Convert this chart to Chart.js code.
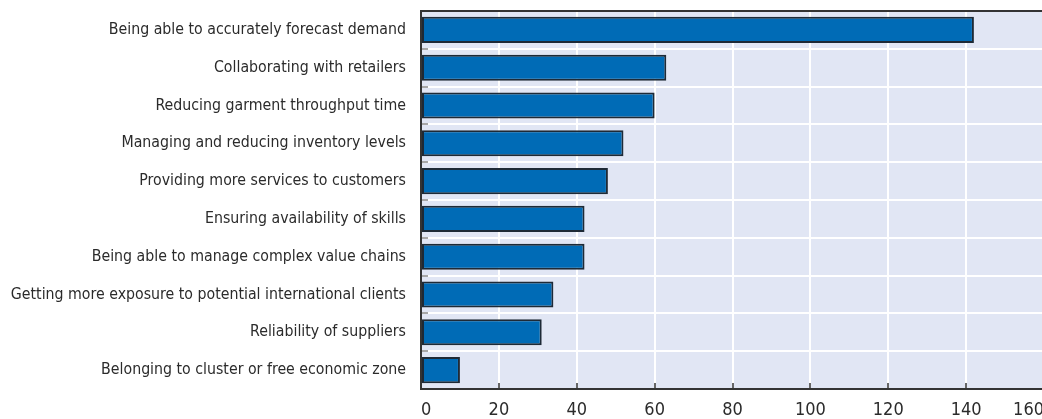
<!DOCTYPE html>
<html>
<head>
<meta charset="utf-8">
<script src="https://cdn.jsdelivr.net/npm/chart.js@4"></script>
<style>
    html, body { margin: 0; padding: 0; background: #fff; overflow: hidden; }
    #wrap { position: relative; width: 1046px; height: 419px; }
</style>
</head>
<body>
<div id="wrap"><canvas id="factors-chart"></canvas></div>
<script>
// Factors ranked by number of mentions
const categories = [
    'Being able to accurately forecast demand',
    'Collaborating with retailers',
    'Reducing garment throughput time',
    'Managing and reducing inventory levels',
    'Providing more services to customers',
    'Ensuring availability of skills',
    'Being able to manage complex value chains',
    'Getting more exposure to potential international clients',
    'Reliability of suppliers',
    'Belonging to cluster or free economic zone'
];
const mentions = [142, 63, 60, 52, 48, 42, 42, 34, 31, 10];

// Axis range
const xMin = 0;
const xMax = 160;
const xStep = 20;

const TEXT = '#2b2b2b';
const AXIS = '#333333';

/**
 * Pick the narrowest installed family from the list
 */
function hasFont(family) {
    const c = document.createElement('canvas').getContext('2d');
    const sample = 'abcdefghijklmnopqrstuvwxyz0123456789';
    c.font = '40px monospace';
    const base = c.measureText(sample).width;
    c.font = `40px '${family}', monospace`;
    return c.measureText(sample).width !== base;
}
const FAMILY = ['Liberation Sans Narrow', 'DejaVu Sans Condensed', 'Roboto', 'Liberation Sans']
    .find(hasFont) || 'sans-serif';

// Size category text so the longest label takes about 396px
const longest = categories.reduce((a, b) => (a.length > b.length ? a : b));
const probe = document.createElement('canvas').getContext('2d');
probe.font = `100px '${FAMILY}'`;
const LABEL_SIZE = Math.min(18, Math.floor(396 / probe.measureText(longest).width * 100 * 4) / 4);
const LABEL_FONT = { family: `'${FAMILY}', sans-serif`, size: LABEL_SIZE };
const TICK_FONT = { family: `'${FAMILY}', sans-serif`, size: 18 };

// Paint the plot area before grid lines go down
const plotBackground = {
    id: 'plotBackground',
    beforeDraw(chart) {
        const { ctx, chartArea: a } = chart;
        ctx.save();
        ctx.fillStyle = '#e1e6f4';
        ctx.fillRect(a.left, a.top, a.right - a.left, a.bottom - a.top);
        ctx.restore();
    }
};

new Chart(document.getElementById('factors-chart'), {
    type: 'bar',
    data: {
        labels: categories,
        datasets: [{
            data: mentions,
            backgroundColor: '#006bb6',
            borderColor: '#1e2a36',
            borderWidth: 2,
            borderSkipped: false,
            categoryPercentage: 1,
            barPercentage: 0.69
        }]
    },
    options: {
        indexAxis: 'y',
        responsive: true,
        maintainAspectRatio: false,
        animation: false,
        layout: { padding: { top: 11, right: 2, left: 0, bottom: 0 } },
        plugins: {
            legend: { display: false },
            tooltip: { enabled: false }
        },
        scales: {
            x: {
                position: 'bottom',
                min: xMin,
                max: xMax,
                afterFit(scale) {
                    scale.height = 30;
                    // tick padding only pushes labels down, not the plot inward
                    scale.paddingLeft = 0;
                    scale.paddingRight = 0;
                },
                ticks: {
                    stepSize: xStep,
                    align: 'inner',
                    padding: 17,
                    color: TEXT,
                    font: TICK_FONT
                },
                grid: {
                    color: '#ffffff',
                    lineWidth: 2,
                    tickColor: AXIS,
                    tickLength: -6,
                    tickWidth: 1.5
                },
                border: { color: AXIS, width: 2 }
            },
            xTop: {
                type: 'linear',
                position: 'top',
                min: xMin,
                max: xMax,
                afterFit(scale) { scale.height = 0; },
                ticks: { display: false },
                grid: { drawOnChartArea: false, drawTicks: false },
                border: { color: AXIS, width: 2 }
            },
            y: {
                afterFit(scale) {
                    scale.width = 421;
                    scale.paddingTop = 0;
                    scale.paddingBottom = 0;
                },
                ticks: {
                    padding: 22,
                    color: TEXT,
                    font: LABEL_FONT
                },
                grid: {
                    color: '#ffffff',
                    lineWidth: 2,
                    tickColor: '#8a8a8a',
                    tickLength: -7,
                    tickWidth: 1.5
                },
                border: { color: AXIS, width: 2 }
            }
        }
    },
    plugins: [plotBackground]
});
</script>
</body>
</html>
